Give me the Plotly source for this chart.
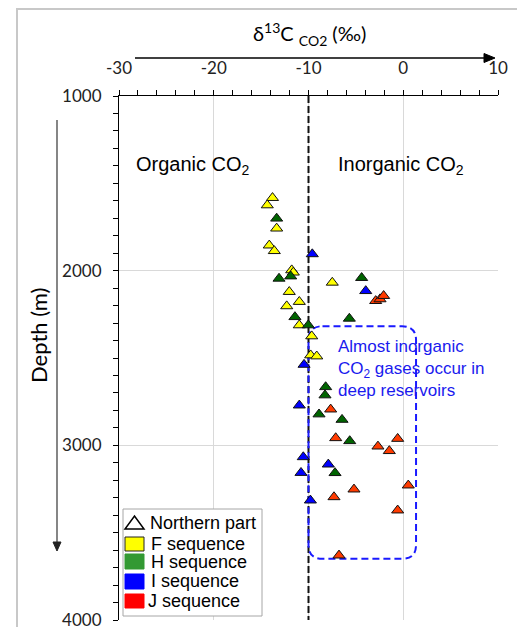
import plotly.graph_objects as go

# δ13C of CO2 (‰) and depth (m) per sequence, Northern part
f_d13c = [-13.8, -14.35, -13.36, -14.14, -13.61, -11.77, -11.6, -12.03, -10.97, -12.3, -10.97, -9.66, -7.49, -9.77, -9.13]
f_depth = [1583, 1625, 1758, 1855, 1887, 1997, 2010, 2121, 2178, 2203, 2312, 2375, 2068, 2484, 2490]

h_d13c = [-13.36, -11.88, -13.11, -11.43, -10.02, -4.39, -5.69, -8.19, -8.26, -8.89, -6.46, -5.65, -7.2]
h_depth = [1701, 2032, 2045, 2265, 2312, 2041, 2274, 2666, 2713, 2822, 2853, 2975, 3158]

i_d13c = [-9.6, -3.96, -10.47, -10.97, -10.55, -10.79, -9.8, -7.91]
i_depth = [1905, 2116, 2538, 2771, 3067, 3157, 3315, 3109]

j_d13c = [-2.91, -2.45, -2.07, -7.66, -7.13, -0.59, -2.67, -1.47, 0.53, -5.2, -7.31, -0.59, -6.78]
j_depth = [2173, 2163, 2144, 2794, 2958, 2962, 3006, 3032, 3229, 3252, 3296, 3372, 3630]

series_names = ["F sequence", "H sequence", "I sequence", "J sequence"]
marker_colors = ["#FFFF00", "#006400", "#0000FF", "#FF3B00"]
legend_colors = ["#FFFF00", "#339933", "#0000FF", "#FF0000"]

x_ticks = [-30, -20, -10, 0, 10]
y_ticks = [1000, 2000, 3000, 4000]

# boundary between organic and inorganic CO2, and the deep-reservoir box
boundary_x = -10
box_x = [-10, 1.35]
box_depth = [2318, 3650]

W, H = 517, 627
L, R, T, B = 119, 498, 96, 620


def px(x):
    return (x - L) / (R - L)


def py(y):
    return (B - y) / (B - T)


def paper_path(points):
    pts = [f"{px(a)},{py(b)}" for a, b in points]
    return "M" + " L".join(pts) + " Z"


fig = go.Figure()
for name, xs, ys, col in zip(series_names,
                             [f_d13c, h_d13c, i_d13c, j_d13c],
                             [f_depth, h_depth, i_depth, j_depth],
                             marker_colors):
    fig.add_trace(go.Scatter(
        x=xs, y=ys, mode="markers", name=name, showlegend=False,
        marker=dict(symbol="triangle-up", size=10.5, color=col,
                    line=dict(color="#111", width=1)),
        cliponaxis=False,
    ))

shapes = []
# dashed boundary line
shapes.append(dict(type="line", xref="x", yref="y", x0=boundary_x, x1=boundary_x,
                   y0=y_ticks[0], y1=y_ticks[-1], layer="between",
                   line=dict(color="#111", width=2, dash="7px,3px")))

# rounded dashed box
x0, x1 = box_x
y0, y1 = box_depth
rpx = 14
rx = rpx * (x_ticks[-1] - x_ticks[0]) / (R - L)
ry = rpx * (y_ticks[-1] - y_ticks[0]) / (B - T)
path = (f"M{x0+rx},{y0} L{x1-rx},{y0} Q{x1},{y0} {x1},{y0+ry} "
        f"L{x1},{y1-ry} Q{x1},{y1} {x1-rx},{y1} L{x0+rx},{y1} "
        f"Q{x0},{y1} {x0},{y1-ry} L{x0},{y0+ry} Q{x0},{y0} {x0+rx},{y0} Z")
shapes.append(dict(type="path", xref="x", yref="y", path=path, layer="between",
                   line=dict(color="#1a1aff", width=2, dash="7px,4px")))

# outer frame
shapes.append(dict(type="rect", xref="paper", yref="paper",
                   x0=px(17), x1=px(540), y0=py(650), y1=py(9),
                   line=dict(color="#c8c8c8", width=2), layer="below"))

# axis direction arrows
shapes.append(dict(type="line", xref="paper", yref="paper",
                   x0=px(135), x1=px(485), y0=py(58), y1=py(58),
                   line=dict(color="black", width=1.3), layer="above"))
shapes.append(dict(type="path", xref="paper", yref="paper",
                   path=paper_path([(484, 53.5), (495, 58), (484, 62.5)]),
                   fillcolor="black", line=dict(color="black", width=1), layer="above"))
shapes.append(dict(type="line", xref="paper", yref="paper",
                   x0=px(57), x1=px(57), y0=py(120), y1=py(543),
                   line=dict(color="#444", width=1.3), layer="above"))
shapes.append(dict(type="path", xref="paper", yref="paper",
                   path=paper_path([(53, 542), (61, 542), (57, 551)]),
                   fillcolor="#222", line=dict(color="#222", width=1), layer="above"))

# legend box
shapes.append(dict(type="rect", xref="paper", yref="paper",
                   x0=px(123), x1=px(262), y0=py(616), y1=py(509),
                   line=dict(color="#a6a6a6", width=1), fillcolor="white", layer="above"))
# open triangle for "Northern part"
shapes.append(dict(type="path", xref="paper", yref="paper",
                   path=paper_path([(125, 529), (144, 529), (134.5, 516)]),
                   line=dict(color="black", width=1.5), layer="above"))
sq_rows = [(537, 551), (554, 569), (574, 589), (594, 608)]
for (ya, yb), col in zip(sq_rows, legend_colors):
    shapes.append(dict(type="rect", xref="paper", yref="paper",
                       x0=px(125), x1=px(144), y0=py(yb), y1=py(ya),
                       fillcolor=col, layer="above",
                       line=dict(color="#222" if col == "#FFFF00" else col, width=1)))

annotations = []
leg_font = dict(family="Liberation Sans, Arial", size=18, color="black")
leg_text = [("Northern part", 149, 523)] + list(zip(series_names, [150, 150, 150, 147], [544, 562, 581, 601]))
for txt, lx, ly in leg_text:
    annotations.append(dict(text=txt, xref="paper", yref="paper", x=px(lx), y=py(ly),
                            xanchor="left", yanchor="middle", showarrow=False,
                            font=leg_font, borderpad=0))

# region labels
annotations.append(dict(text="Organic CO<sub>2</sub>", xref="paper", yref="paper",
                        x=px(134), y=py(166), xanchor="left", yanchor="middle",
                        showarrow=False, font=dict(family="Liberation Sans, Arial", size=20, color="black")))
annotations.append(dict(text="Inorganic CO<sub>2</sub>", xref="paper", yref="paper",
                        x=px(336), y=py(166), xanchor="left", yanchor="middle",
                        showarrow=False, font=dict(family="Liberation Sans, Arial", size=20, color="black")))
annotations.append(dict(text="Almost inorganic<br>CO<sub>2</sub> gases occur in<br>deep reservoirs",
                        xref="paper", yref="paper", x=px(336), y=py(335),
                        xanchor="left", yanchor="top", align="left", showarrow=False,
                        font=dict(family="Liberation Sans, Arial", size=17, color="#1a1aee")))

# axis titles
annotations.append(dict(text="δ<sup>13</sup>C <sub>CO2</sub> (‰)", xref="paper", yref="paper",
                        x=px(309), y=py(34), xanchor="center", yanchor="middle",
                        showarrow=False, font=dict(family="Lato", size=20, color="black")))
annotations.append(dict(text="Depth (m)", xref="paper", yref="paper",
                        x=px(38), y=py(336), textangle=-90, xanchor="center", yanchor="middle",
                        showarrow=False, font=dict(family="Lato", size=22, color="black")))

tick_font = dict(family="Lato", size=17, color="#222")
fig.update_layout(
    width=W, height=H,
    margin=dict(l=L, r=W - R, t=T, b=H - B, autoexpand=False),
    paper_bgcolor="white", plot_bgcolor="white",
    shapes=shapes, annotations=annotations,
    xaxis=dict(range=[x_ticks[0], x_ticks[-1]], side="top", tickvals=x_ticks,
               ticktext=[str(v) for v in x_ticks], automargin=False,
               showgrid=True, gridcolor="#d9d9d9", gridwidth=1, zeroline=False,
               showline=True, linecolor="black", linewidth=1.2,
               ticks="outside", ticklen=5, tickcolor="black", tickwidth=1,
               tickfont=tick_font, ticklabelstandoff=9, ticklabeloverflow="allow",
               minor=dict(dtick=2, ticks="outside", ticklen=5, tickcolor="black", showgrid=False)),
    yaxis=dict(range=[y_ticks[-1], y_ticks[0]], tickvals=y_ticks,
               ticktext=[str(v) for v in y_ticks], automargin=False,
               showgrid=True, gridcolor="#d9d9d9", gridwidth=1, zeroline=False,
               showline=True, linecolor="black", linewidth=1.2,
               ticks="outside", ticklen=5, tickcolor="black", tickwidth=1,
               tickfont=tick_font, ticklabelstandoff=8, ticklabeloverflow="allow",
               minor=dict(dtick=100, ticks="outside", ticklen=5, tickcolor="black", showgrid=False)),
)

fig.write_html("out.html")
